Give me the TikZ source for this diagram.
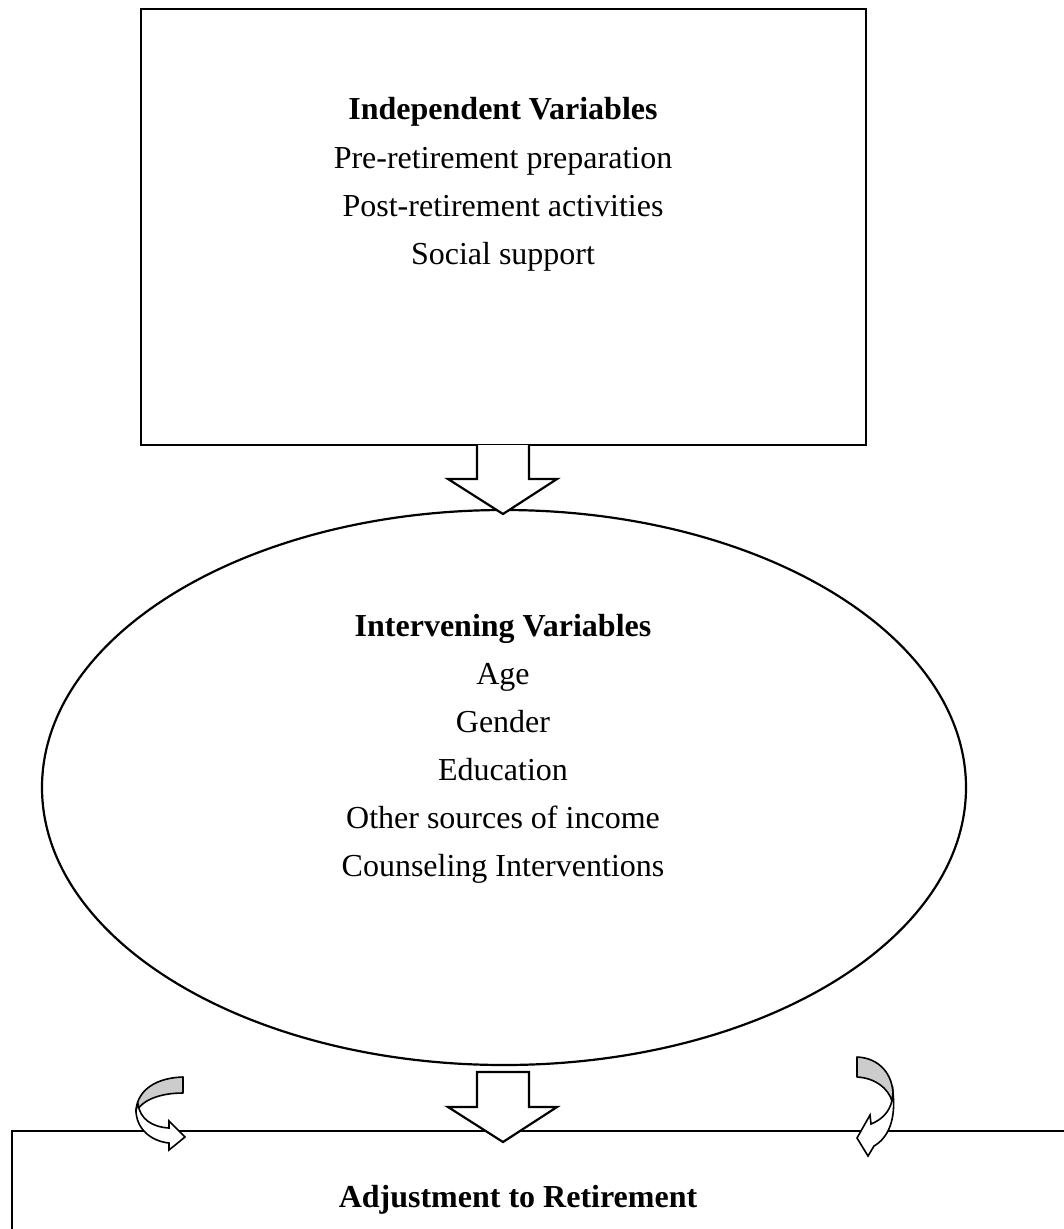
\documentclass[tikz,border=0pt]{standalone}
\usepackage{fontspec}
\setmainfont{Liberation Serif}
\usetikzlibrary{shapes.geometric,calc}
\begin{document}
\begin{tikzpicture}[x=1pt,y=-1pt, line width=2.2pt, line join=miter,
  txt/.style={font=\fontsize{32}{38}\selectfont, anchor=base, inner sep=0},
  ttl/.style={anchor=base, inner sep=0, font=\fontsize{32}{38}\selectfont\bfseries},
  blockarrow/.style={draw, fill=white, line width=2.2pt},
  backpart/.style={draw, fill=black!20, line width=1.6pt, line join=round},
  frontpart/.style={draw, fill=white, line width=1.6pt, line join=miter}]
\useasboundingbox (0,0) rectangle (1064,1229);
\clip (0,0) rectangle (1064,1229);
% boxes
\node[draw, minimum width=725pt, minimum height=436pt, inner sep=0] (iv) at (503.5,227) {};
\node[draw, ellipse, minimum width=924pt, minimum height=555pt, inner sep=0] (mv) at (504,787.5) {};
\node[draw, minimum width=1088pt, minimum height=169pt, inner sep=0] (dv) at (556,1215.5) {};
% texts
\node[ttl] (t1) at (503,119) {Independent Variables};
\node[txt] (t2) at (503,168) {Pre-retirement preparation};
\node[txt] (t3) at (503,216) {Post-retirement activities};
\node[txt] (t4) at (503,264) {Social support};
\node[ttl] (m1) at (503,636) {Intervening Variables};
\node[txt] (m2) at (503,684) {Age};
\node[txt] (m3) at (503,732) {Gender};
\node[txt] (m4) at (503,780) {Education};
\node[txt] (m5) at (503,828) {Other sources of income};
\node[txt] (m6) at (503,876) {Counseling Interventions};
\node[ttl] (d1) at (518,1207) {Adjustment to Retirement};
% block arrows
\filldraw[blockarrow] (477,445) -- (477,479) -- (448,479) -- (503,514) -- (557,479) -- (529,479) -- (529,445);
\filldraw[blockarrow] (477,1072) -- (477,1107) -- (448,1107) -- (503,1142) -- (557,1107) -- (529,1107) -- (529,1072) -- cycle;
% left curved arrow
\filldraw[backpart] (183,1077) .. controls (150,1078) and (136,1095) .. (136,1112)
  .. controls (142,1100) and (160,1093) .. (183,1093) -- cycle;
\filldraw[frontpart] (136,1110) .. controls (136,1128) and (150,1141) .. (169,1143)
  -- (169,1150) -- (185,1137) -- (169,1121) -- (169,1128)
  .. controls (152,1127) and (140,1119) .. (138,1104) -- cycle;
% right curved arrow
\filldraw[backpart] (857,1057) .. controls (880,1058) and (893,1075) .. (893,1095)
  -- (892,1101) .. controls (888,1088) and (875,1078) .. (857,1077) -- cycle;
\filldraw[frontpart] (892,1100) .. controls (890,1112) and (881,1120) .. (871,1124)
  -- (870,1115) -- (857,1138) -- (868,1156) -- (874,1146)
  .. controls (888,1138) and (896,1120) .. (893,1093) -- cycle;
\end{tikzpicture}
\end{document}
